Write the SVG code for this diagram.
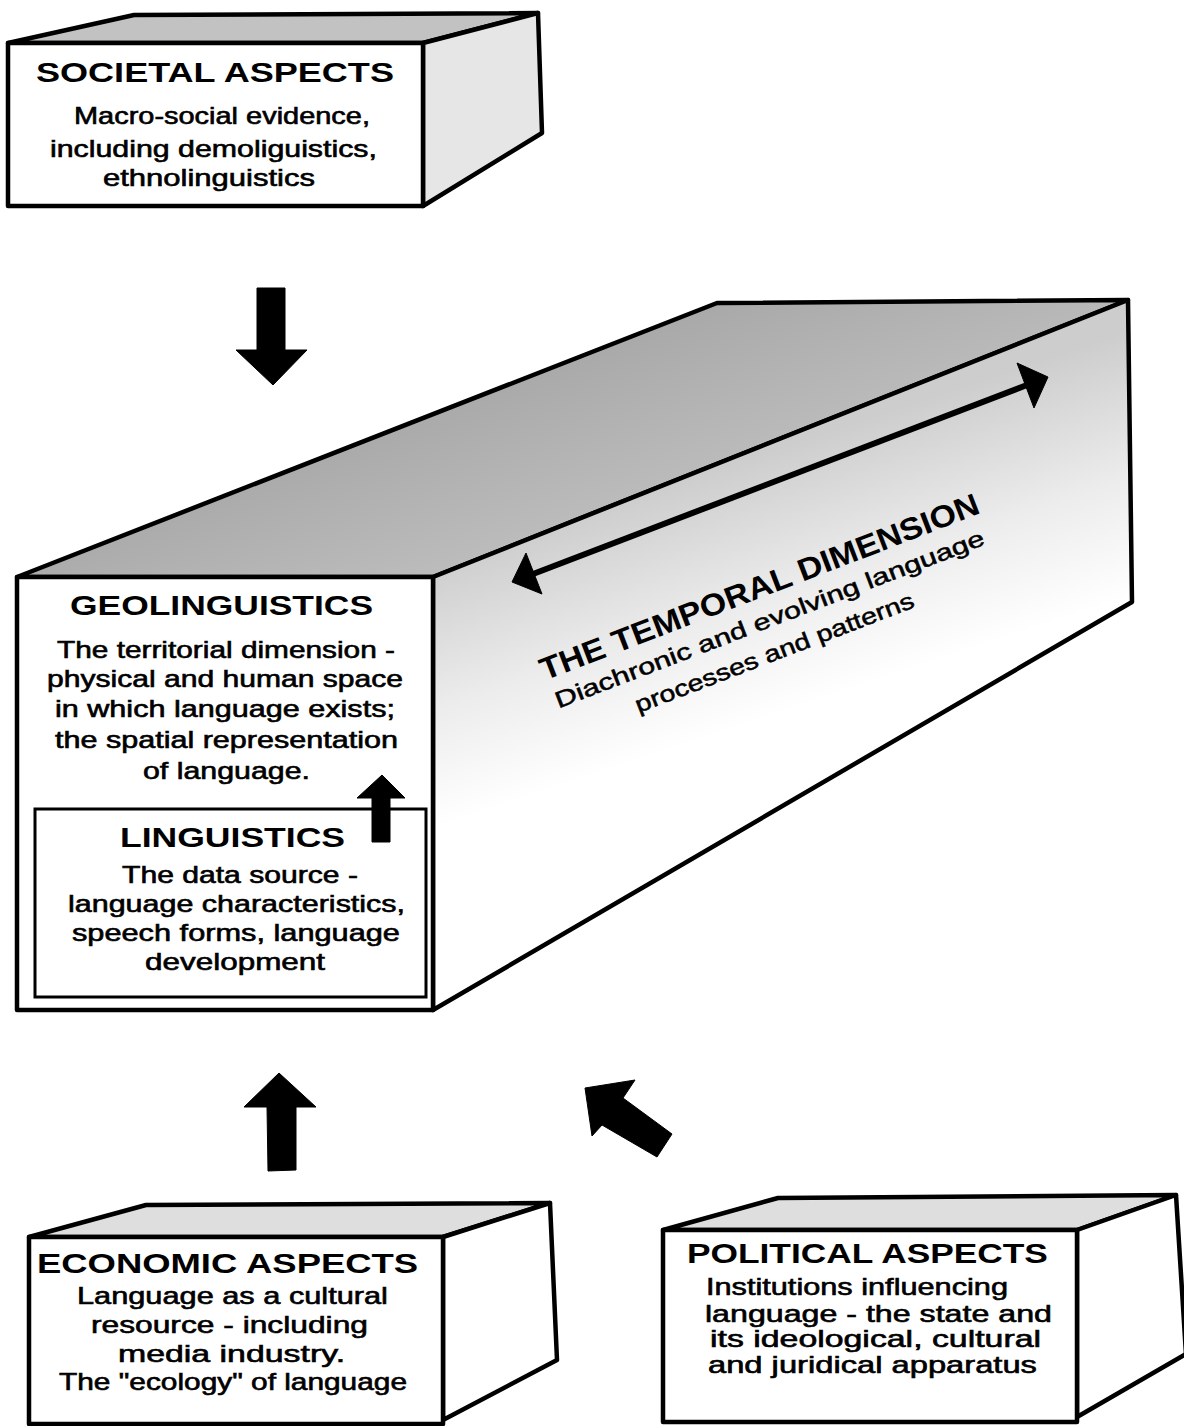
<svg xmlns="http://www.w3.org/2000/svg" width="1184" height="1426" viewBox="0 0 1184 1426">
<style>
.edge{stroke:#000;stroke-width:4.5;stroke-linejoin:round;}
.front{fill:#fff;}
.inner{fill:none;stroke:#000;stroke-width:3;}
.title{font-family:"Liberation Sans",Arial,Helvetica,sans-serif;font-weight:bold;font-size:28px;fill:#000;}
.body{font-family:"Liberation Sans",Arial,Helvetica,sans-serif;font-size:23px;fill:#000;stroke:#000;stroke-width:0.6;}
.sub{font-family:"Liberation Sans",Arial,Helvetica,sans-serif;font-size:23px;fill:#000;stroke:#000;stroke-width:0.5;}
.ttitle{font-family:"Liberation Sans",Arial,Helvetica,sans-serif;font-weight:bold;font-size:31px;fill:#000;}
.arrow{fill:#000;stroke:#000;stroke-width:1;stroke-linejoin:round;}
</style>
<defs>
<linearGradient id="bigTop" gradientUnits="userSpaceOnUse" x1="700" y1="300" x2="760" y2="470">
<stop offset="0" stop-color="#a8a8a8"/>
<stop offset="1" stop-color="#bdbdbd"/>
</linearGradient>
<linearGradient id="bigSide" gradientUnits="userSpaceOnUse" x1="800" y1="440" x2="880" y2="680">
<stop offset="0" stop-color="#cdcdcd"/>
<stop offset="0.55" stop-color="#ececec"/>
<stop offset="1" stop-color="#ffffff"/>
</linearGradient>
</defs>

<g id="societal">
<polygon class="edge" fill="#c2c2c2" points="8,43 134,15 538,13 423,43"/>
<polygon class="edge" fill="#e6e6e6" points="423,43 538,13 542,133 423,206"/>
<rect class="edge front" x="8" y="43" width="415" height="163"/>
<g transform="scale(1.26,1)">
<text class="title" x="28.57" y="82" textLength="284.1" lengthAdjust="spacingAndGlyphs">SOCIETAL ASPECTS</text>
<text class="body" x="58.73" y="124" textLength="234.9" lengthAdjust="spacingAndGlyphs">Macro-social evidence,</text>
<text class="body" x="39.68" y="157" textLength="259.5" lengthAdjust="spacingAndGlyphs">including demoliguistics,</text>
<text class="body" x="81.75" y="186" textLength="168.25" lengthAdjust="spacingAndGlyphs">ethnolinguistics</text>
</g>
</g>

<g id="geolinguistics">
<polygon class="edge" fill="url(#bigTop)" points="17,577 717,303 1128,300 433,577"/>
<polygon class="edge" fill="url(#bigSide)" points="433,577 1128,300 1132,602 433,1010"/>
<rect class="edge front" x="17" y="577" width="416" height="433"/>
<g transform="scale(1.26,1)">
<text class="title" x="55.56" y="615" textLength="240.5" lengthAdjust="spacingAndGlyphs">GEOLINGUISTICS</text>
<text class="body" x="45.24" y="658" textLength="268.25" lengthAdjust="spacingAndGlyphs">The territorial dimension -</text>
<text class="body" x="37.3" y="687" textLength="282.5" lengthAdjust="spacingAndGlyphs">physical and human space</text>
<text class="body" x="43.65" y="717" textLength="269.8" lengthAdjust="spacingAndGlyphs">in which language exists;</text>
<text class="body" x="43.65" y="748" textLength="272.2" lengthAdjust="spacingAndGlyphs">the spatial representation</text>
<text class="body" x="113.5" y="779" textLength="132.5" lengthAdjust="spacingAndGlyphs">of language.</text>
</g>
</g>

<g id="linguistics">
<rect class="inner" x="35" y="809" width="391" height="188"/>
<g transform="scale(1.26,1)">
<text class="title" x="95.24" y="847" textLength="178.6" lengthAdjust="spacingAndGlyphs">LINGUISTICS</text>
<text class="body" x="96.83" y="883" textLength="187.3" lengthAdjust="spacingAndGlyphs">The data source -</text>
<text class="body" x="53.97" y="912" textLength="267.5" lengthAdjust="spacingAndGlyphs">language characteristics,</text>
<text class="body" x="57.14" y="941" textLength="260.3" lengthAdjust="spacingAndGlyphs">speech forms, language</text>
<text class="body" x="115.1" y="970" textLength="142.9" lengthAdjust="spacingAndGlyphs">development</text>
</g>
</g>

<g id="temporal" transform="translate(765,596) rotate(-21) scale(1.15,1)">
<text class="ttitle" x="-205.2" y="0" textLength="407" lengthAdjust="spacingAndGlyphs">THE TEMPORAL DIMENSION</text>
<text class="sub" x="-202.6" y="31" textLength="398.3" lengthAdjust="spacingAndGlyphs">Diachronic and evolving language</text>
<text class="sub" x="-139.1" y="64" textLength="258.3" lengthAdjust="spacingAndGlyphs">processes and patterns</text>
</g>

<g id="economic">
<polygon class="edge" fill="#dedede" points="29,1237 146,1205 550,1203 443,1237"/>
<polygon class="edge" fill="#ffffff" points="443,1237 550,1203 557,1360 443,1420"/>
<rect class="edge front" x="29" y="1237" width="414" height="187"/>
<g transform="scale(1.26,1)">
<text class="title" x="29.37" y="1273" textLength="302.4" lengthAdjust="spacingAndGlyphs">ECONOMIC ASPECTS</text>
<text class="body" x="61.11" y="1304" textLength="246.8" lengthAdjust="spacingAndGlyphs">Language as a cultural</text>
<text class="body" x="72.22" y="1333" textLength="219.8" lengthAdjust="spacingAndGlyphs">resource - including</text>
<text class="body" x="93.65" y="1362" textLength="180.2" lengthAdjust="spacingAndGlyphs">media industry.</text>
<text class="body" x="46.83" y="1390" textLength="276.2" lengthAdjust="spacingAndGlyphs">The "ecology" of language</text>
</g>
</g>

<g id="political">
<polygon class="edge" fill="#dedede" points="663,1230 778,1198 1176,1195 1077,1230"/>
<polygon class="edge" fill="#ffffff" points="1077,1230 1176,1195 1186,1354 1077,1417"/>
<rect class="edge front" x="663" y="1230" width="414" height="192"/>
<g transform="scale(1.26,1)">
<text class="title" x="545.2" y="1263" textLength="286.5" lengthAdjust="spacingAndGlyphs">POLITICAL ASPECTS</text>
<text class="body" x="560.3" y="1295" textLength="239.7" lengthAdjust="spacingAndGlyphs">Institutions influencing</text>
<text class="body" x="559.5" y="1322" textLength="275.4" lengthAdjust="spacingAndGlyphs">language - the state and</text>
<text class="body" x="563.5" y="1347" textLength="262.7" lengthAdjust="spacingAndGlyphs">its ideological, cultural</text>
<text class="body" x="561.9" y="1373" textLength="261.1" lengthAdjust="spacingAndGlyphs">and juridical apparatus</text>
</g>
</g>

<g id="connectors">
<polygon class="arrow" points="257,288 285,288 285,350 307,350 273,385 236,350 257,350"/>
<polygon class="arrow" points="372,842 372,798 357,798 382,775 405,798 390,798 390,842"/>
<polygon class="arrow" points="268,1171 267,1107 244,1107 279,1073 316,1107 296,1107 296,1170"/>
<polygon class="arrow" points="585,1088 635,1080 623,1098 672,1134 657,1157 602,1125 592,1136"/>
<line x1="533" y1="574" x2="1027" y2="385" stroke="#000" stroke-width="6"/>
<polygon class="arrow" points="512,582 526,553 542,594"/>
<polygon class="arrow" points="1048,377 1017,363 1034,408"/>
</g>
</svg>
